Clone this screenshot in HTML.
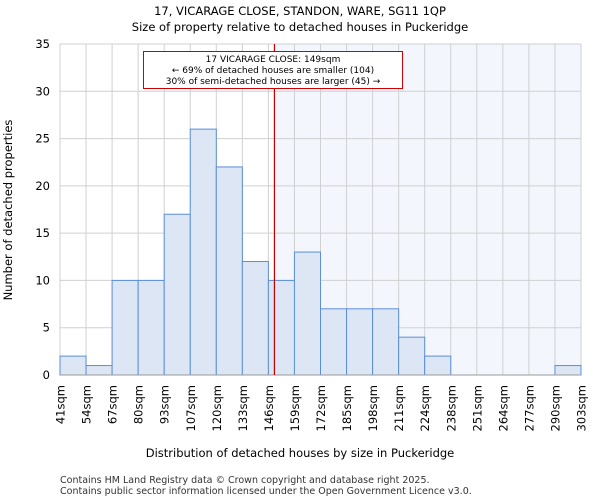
<!DOCTYPE html>
<html><head><meta charset="utf-8"><style>body{margin:0;background:#fff}svg{display:block;font-family:"DejaVu Sans","Liberation Sans",sans-serif}</style></head>
<body>
<svg id="c" width="600" height="500" viewBox="0 0 600 500">
<text x="300" y="15" text-anchor="middle" font-size="11.5">17, VICARAGE CLOSE, STANDON, WARE, SG11 1QP</text>
<text x="300" y="31" text-anchor="middle" font-size="11.5">Size of property relative to detached houses in Puckeridge</text>
<g id="plot"></g>
<text x="300" y="457" text-anchor="middle" font-size="11.5">Distribution of detached houses by size in Puckeridge</text>
<text transform="translate(12,210) rotate(-90)" text-anchor="middle" font-size="11.5">Number of detached properties</text>
<text x="60" y="483" font-size="9.5" fill="#333">Contains HM Land Registry data © Crown copyright and database right 2025.</text>
<text x="60" y="494" font-size="9.5" fill="#333">Contains public sector information licensed under the Open Government Licence v3.0.</text>
</svg>
<script>
const categories=["41sqm","54sqm","67sqm","80sqm","93sqm","107sqm","120sqm","133sqm","146sqm","159sqm","172sqm","185sqm","198sqm","211sqm","224sqm","238sqm","251sqm","264sqm","277sqm","290sqm","303sqm"];
const binEdges=[41,54,67,80,93,107,120,133,146,159,172,185,198,211,224,238,251,264,277,290,303];
const counts=[2,1,10,10,17,26,22,12,10,13,7,7,7,4,2,0,0,0,0,1];
const yTicks=[0,5,10,15,20,25,30,35];
const propertySize=149;
const NS="http://www.w3.org/2000/svg";
const L=60,R=581,T=44,B=375,yMax=35;
const n=counts.length,bw=(R-L)/n;
const xi=i=>L+i*bw;
const xv=v=>{let i=0;while(i<n-1&&v>binEdges[i+1])i++;return xi(i)+(v-binEdges[i])/(binEdges[i+1]-binEdges[i])*bw;};
const y=v=>B-(v/yMax)*(B-T);
const g=document.getElementById('plot');
function mk(t,a){const e=document.createElementNS(NS,t);for(const k in a)e.setAttribute(k,a[k]);g.appendChild(e);return e;}
const lx=xv(propertySize);
let sh=mk('rect',{x:lx,y:T,width:R-lx,height:B-T,fill:'#f3f6fd'});


yTicks.forEach(v=>{let l=mk('line',{x1:L,x2:R,y1:y(v),y2:y(v),stroke:'#d0d0d0'});


let t=mk('text',{x:L-10,y:y(v)+4,'text-anchor':'end','font-size':'11.5'});t.textContent=v;

});
for(let i=0;i<=n;i++){let l=mk('line',{x1:xi(i),x2:xi(i),y1:T,y2:B,stroke:'#d0d0d0'});

}
counts.forEach((c,i)=>{if(!c)return;let r=mk('rect',{x:xi(i),y:y(c),width:bw,height:B-y(c),fill:'#dce6f4',stroke:'#5b8fd9','stroke-width':1});

});
let ax=mk('line',{x1:L,x2:R,y1:B,y2:B,stroke:'#999'});


categories.forEach((c,i)=>{let t=mk('text',{transform:`translate(${xi(i)+4.5},385) rotate(-90)`,'text-anchor':'end','font-size':'11.5'});t.textContent=c;

});
let rl=mk('line',{x1:lx,x2:lx,y1:T,y2:B,stroke:'#cc0000','stroke-width':1.2});


let bx=mk('rect',{x:143.5,y:51.5,width:259,height:37,fill:'#fff',stroke:'#cc0000'});


["17 VICARAGE CLOSE: 149sqm","← 69% of detached houses are smaller (104)","30% of semi-detached houses are larger (45) →"].forEach((s,i)=>{let t=mk('text',{x:273,y:62+i*11,'text-anchor':'middle','font-size':'9'});t.textContent=s;

});
</script>
</body></html>
